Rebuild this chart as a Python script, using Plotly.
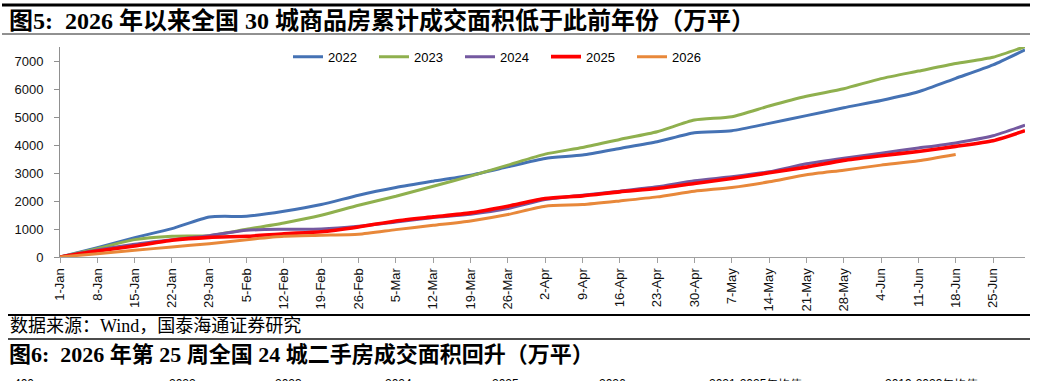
import plotly.graph_objects as go

# ---------------- data ----------------
dates = ["2026-01-01", "2026-01-08", "2026-01-15", "2026-01-22", "2026-01-29",
         "2026-02-05", "2026-02-12", "2026-02-19", "2026-02-26", "2026-03-05",
         "2026-03-12", "2026-03-19", "2026-03-26", "2026-04-02", "2026-04-09",
         "2026-04-16", "2026-04-23", "2026-04-30", "2026-05-07", "2026-05-14",
         "2026-05-21", "2026-05-28", "2026-06-04", "2026-06-11", "2026-06-18",
         "2026-06-25", "2026-07-01"]
tick_labels = ["1-Jan", "8-Jan", "15-Jan", "22-Jan", "29-Jan", "5-Feb", "12-Feb",
               "19-Feb", "26-Feb", "5-Mar", "12-Mar", "19-Mar", "26-Mar", "2-Apr",
               "9-Apr", "16-Apr", "23-Apr", "30-Apr", "7-May", "14-May", "21-May",
               "28-May", "4-Jun", "11-Jun", "18-Jun", "25-Jun"]

v2022 = [0, 334, 692, 1014, 1432, 1455, 1634, 1873, 2207, 2481, 2708, 2923, 3221,
         3519, 3639, 3877, 4116, 4438, 4510, 4772, 5050, 5330, 5590, 5900, 6380,
         6860, 7397]
v2023 = [0, 300, 620, 740, 763, 990, 1217, 1491, 1849, 2171, 2529, 2887, 3281,
         3674, 3913, 4199, 4474, 4891, 5011, 5392, 5740, 6010, 6370, 6640, 6910,
         7134, 7516]
v2024 = [0, 250, 460, 620, 763, 955, 990, 1000, 1098, 1253, 1408, 1527, 1730,
         2052, 2207, 2350, 2505, 2720, 2863, 3042, 3330, 3530, 3710, 3890, 4075,
         4331, 4712]
v2025 = [0, 215, 394, 597, 700, 740, 830, 900, 1074, 1288, 1432, 1575, 1813,
         2088, 2183, 2326, 2446, 2625, 2803, 3006, 3210, 3450, 3615, 3770, 3950,
         4152, 4510]
v2026 = [0, 120, 240, 358, 477, 620, 740, 775, 811, 978, 1133, 1288, 1515,
         1813, 1873, 2004, 2147, 2350, 2481, 2684, 2935, 3102, 3281, 3436, 3662]

series = [("2022", v2022, "#4572B4", 3),
          ("2023", v2023, "#8FB04E", 3),
          ("2024", v2024, "#7459A0", 3),
          ("2025", v2025, "#FF0000", 3.6),
          ("2026", v2026, "#E8883A", 3)]

title5 = "图5:  2026 年以来全国 30 城商品房累计成交面积低于此前年份（万平）"
source = "数据来源：Wind，国泰海通证券研究"
title6 = "图6:  2026 年第 25 周全国 24 城二手房成交面积回升（万平）"
next_labels = ["400", "2022", "2023", "2024", "2025", "2026",
               "2021-2025年均值", "2019-2023年均值"]

# ---------------- figure ----------------
W, H = 1038, 381
L, R, T, B = 60, 13, 47, 124
PW, PH = W - L - R, H - T - B


def px(X):
    return (X - L) / PW


def py(Y):
    return (H - B - Y) / PH


fig = go.Figure()
for name, vals, color, width in series:
    fig.add_trace(go.Scatter(x=dates[:len(vals)], y=vals, name=name, mode="lines",
                             line=dict(color=color, width=width, shape="spline",
                                       smoothing=0.6)))

serif = "Liberation Serif, Noto Sans CJK SC, serif"
sans = "Liberation Sans, Arial, sans-serif"

annotations = [
    dict(text="<b>" + title5 + "</b>", x=px(7), y=py(20), xanchor="left",
         yanchor="middle", font=dict(family=serif, size=24, color="#000")),
    dict(text=source, x=px(8), y=py(326), xanchor="left", yanchor="middle",
         font=dict(family=serif, size=18, color="#000")),
    dict(text="<b>" + title6 + "</b>", x=px(7), y=py(354), xanchor="left",
         yanchor="middle", font=dict(family=serif, size=22, color="#000")),
]
next_x = [12, 167, 273, 383, 490, 597, 707, 883]
for lab, X in zip(next_labels, next_x):
    annotations.append(dict(text=lab, x=px(X), y=py(375), xanchor="left",
                            yanchor="top", font=dict(family=sans, size=12, color="#000")))
for a in annotations:
    a.update(xref="paper", yref="paper", showarrow=False)

shapes = []
for Y, x0, x1, w, c in [(5, 2, 1030, 3, "#000"), (34, 2, 1030, 1, "#222"),
                        (315, 8, 1030, 2, "#000"), (339, 8, 1030, 1.5, "#111")]:
    shapes.append(dict(type="line", xref="paper", yref="paper", x0=px(x0), x1=px(x1),
                       y0=py(Y), y1=py(Y), line=dict(color=c, width=w)))

fig.update_layout(
    width=W, height=H,
    margin=dict(l=L, r=R, t=T, b=B, pad=0),
    paper_bgcolor="white", plot_bgcolor="white",
    font=dict(family=sans, size=13, color="#111"),
    showlegend=True,
    legend=dict(orientation="h", x=px(288), y=py(56.7), xanchor="left",
                yanchor="middle", font=dict(family=sans, size=13, color="#000"),
                bgcolor="rgba(0,0,0,0)", entrywidth=41, entrywidthmode="pixels",
                itemwidth=30, traceorder="normal"),
    annotations=annotations,
    shapes=shapes,
    xaxis=dict(type="date", range=["2026-01-01", "2026-07-01"],
               tickvals=dates[:len(tick_labels)], ticktext=tick_labels,
               tickangle=-90, ticks="outside", ticklen=5, tickcolor="#A0A0A0",
               showline=True, linecolor="#A0A0A0", linewidth=1, showgrid=False,
               zeroline=False, tickfont=dict(family=sans, size=13, color="#111")),
    yaxis=dict(range=[0, 7500], tick0=0, dtick=1000, ticks="outside", ticklen=5,
               tickcolor="#909090", showline=True, linecolor="#909090", linewidth=1,
               showgrid=False, zeroline=False, ticklabelstandoff=8,
               tickfont=dict(family=sans, size=13, color="#111")),
)

fig.write_html("out.html")
